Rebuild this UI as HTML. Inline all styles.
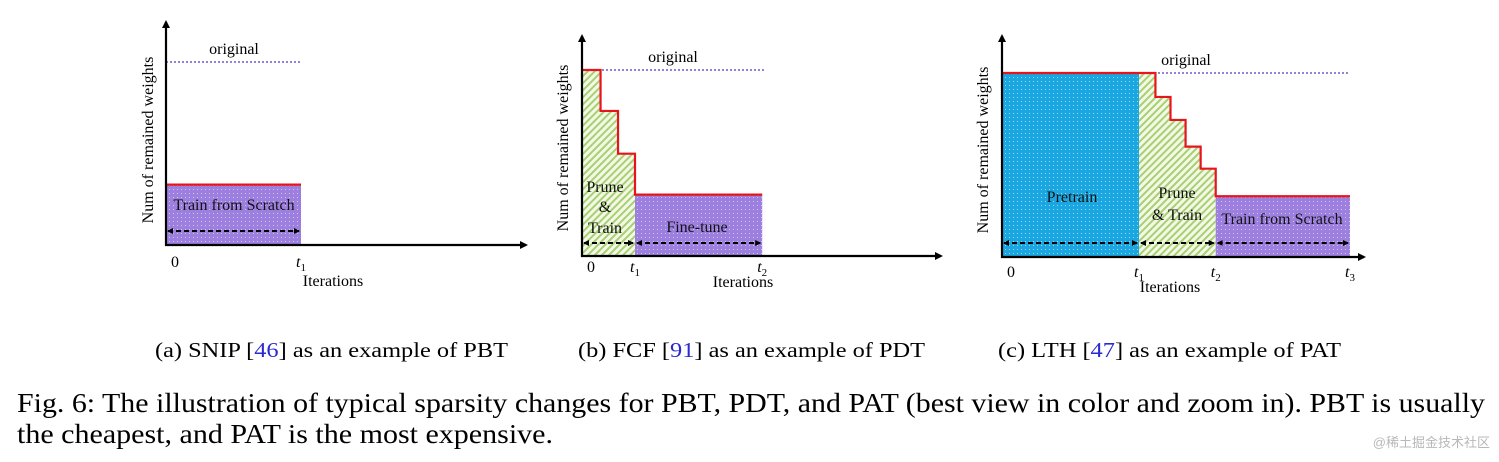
<!DOCTYPE html>
<html><head><meta charset="utf-8"><style>
html,body{margin:0;padding:0;background:#fff;}
svg{display:block;font-family:"Liberation Serif",serif;}
</style></head><body>
<svg id="fig" width="1499" height="462" viewBox="0 0 1499 462" xmlns="http://www.w3.org/2000/svg">
<defs>
<pattern id="dots" width="4" height="4" patternUnits="userSpaceOnUse"><rect width="4" height="4" fill="none"/><rect x="1" y="1" width="1" height="1" fill="#fff" opacity="0.55"/></pattern>
<pattern id="hatch" width="5" height="5" patternUnits="userSpaceOnUse" patternTransform="rotate(45)"><rect width="5" height="5" fill="#f3f9e6"/><rect width="2" height="5" fill="#a9cf73"/></pattern>
<marker id="ah" markerWidth="8" markerHeight="8" refX="6" refY="4" orient="auto" markerUnits="userSpaceOnUse"><path d="M0,0 L8,4 L0,8 z" fill="#000"/></marker>
<marker id="ahs" markerWidth="6" markerHeight="6" refX="5" refY="3" orient="auto-start-reverse" markerUnits="userSpaceOnUse"><path d="M0,0 L6,3 L0,6 z" fill="#000"/></marker>
</defs>
<g id="panels"></g>
<text x="155" y="357" font-size="21" textLength="353" lengthAdjust="spacingAndGlyphs">(a) SNIP [<tspan fill="#2a2ad0">46</tspan>] as an example of PBT</text>
<text x="578" y="357" font-size="21" textLength="347" lengthAdjust="spacingAndGlyphs">(b) FCF [<tspan fill="#2a2ad0">91</tspan>] as an example of PDT</text>
<text x="998" y="357" font-size="21" textLength="343" lengthAdjust="spacingAndGlyphs">(c) LTH [<tspan fill="#2a2ad0">47</tspan>] as an example of PAT</text>
<text x="17" y="412" font-size="27" textLength="1468" lengthAdjust="spacingAndGlyphs">Fig. 6: The illustration of typical sparsity changes for PBT, PDT, and PAT (best view in color and zoom in). PBT is usually</text>
<text x="17" y="443" font-size="27" textLength="536" lengthAdjust="spacingAndGlyphs">the cheapest, and PAT is the most expensive.</text>
<text x="1490" y="447" font-size="13" fill="#b8b8b8" text-anchor="end" font-family="'Liberation Sans','Noto Sans CJK SC',sans-serif">@稀土掘金技术社区</text>
</svg>
<script>
// Panel A (SNIP): iterations in units of t1, weights as % of original
const aStepX = [0, 1];
const aStepY = [33, 33];
// Panel B (FCF)
const bStepX = [0, 0.35, 0.68, 1.0, 3.4];
const bStepY = [100, 78, 55, 33, 33];
const bTicks = ["0", "t1", "t2"];
const bTickX = [0, 1, 3.4];
// Panel C (LTH)
const cStepX = [0, 1.12, 1.23, 1.34, 1.45, 1.56, 2.54];
const cStepY = [100, 87, 74.5, 60, 48, 33, 33];
const cTicks = ["0", "t1", "t2", "t3"];
const cTickX = [0, 1, 1.56, 2.54];
const aTicks = ["0", "t1"];
const aTickX = [0, 1];

const NS = "http://www.w3.org/2000/svg";
const root = document.getElementById("panels");
function mk(tag, attrs, parent) {
  const e = document.createElementNS(NS, tag);
  for (const k in attrs) e.setAttribute(k, attrs[k]);
  (parent || root).appendChild(e);
  return e;
}
function panel(cfg) {
  const g = mk("g", {});
  
  
  const sx = v => cfg.x0 + v * cfg.ux;
  const sy = v => cfg.yb - v / 100 * (cfg.yb - cfg.yTop);
  cfg.regions.forEach(r => {
    let pts = [];
    pts.push([sx(r.from), cfg.yb]);
    for (let i = 0; i < cfg.sx.length - 1; i++) {
      const a = cfg.sx[i], b = cfg.sx[i + 1];
      const lo = Math.max(a, r.from), hi = Math.min(b, r.to);
      if (hi > lo) { pts.push([sx(lo), sy(cfg.sy[i])]); pts.push([sx(hi), sy(cfg.sy[i])]); }
    }
    pts.push([sx(r.to), cfg.yb]);
    const p = mk("polygon", { points: pts.map(q => q.join(",")).join(" "), fill: r.fill }, g);
    
    
    if (r.fill.charAt(0) === "#") mk("polygon", { points: pts.map(q => q.join(",")).join(" "), fill: "url(#dots)" }, g);
    const ar = mk("line", { x1: sx(r.from) + 2, x2: sx(r.to) - 2, y1: cfg.arrowY, y2: cfg.arrowY, stroke: "#000", "stroke-width": 2, "stroke-dasharray": "5,3", "marker-start": "url(#ahs)", "marker-end": "url(#ahs)" }, g);
    
    
    r.labels.forEach(l => {
      const t = mk("text", { x: l[1], y: l[2], "font-size": 16, "text-anchor": "middle", fill: "#111" }, g);
      t.textContent = l[0];
      
      
    });
  });
  const od = mk("line", { x1: cfg.x0, x2: cfg.origEnd, y1: sy(100), y2: sy(100), stroke: "#6a5acd", "stroke-width": 1.6, "stroke-dasharray": "2,2" }, g);
  
  
  const ot = mk("text", { x: cfg.origTextX, y: sy(100) - 8, "font-size": 16, "text-anchor": "middle" }, g);
  ot.textContent = "original";
  
  
  let d = "";
  for (let i = 0; i < cfg.sx.length; i++) {
    d += (i === 0 ? "M" : "L") + sx(cfg.sx[i]) + "," + sy(cfg.sy[i]);
    if (i < cfg.sx.length - 1) d += "L" + sx(cfg.sx[i + 1]) + "," + sy(cfg.sy[i]);
  }
  const rl = mk("path", { d: d, fill: "none", stroke: "#e8141c", "stroke-width": 2.2 }, g);
  
  
  const ya = mk("line", { x1: cfg.x0, x2: cfg.x0, y1: cfg.yb + 1, y2: cfg.yAxisTop, stroke: "#000", "stroke-width": 2.2, "marker-end": "url(#ah)" }, g);
  
  
  const xa = mk("line", { x1: cfg.x0 - 1, x2: cfg.xEnd, y1: cfg.yb, y2: cfg.yb, stroke: "#000", "stroke-width": 2.2, "marker-end": "url(#ah)" }, g);
  
  
  cfg.ticks.forEach((tk, i) => {
    const t = mk("text", { x: sx(cfg.tickX[i]) + (i === 0 ? 9 : 0), y: cfg.yb + cfg.tickDy, "font-size": 16, "text-anchor": "middle" }, g);
    if (tk === "0") t.textContent = "0";
    else {
      const a = mk("tspan", { "font-style": "italic" }, t); a.textContent = "t";
      const b = mk("tspan", { "font-size": 11, dy: 4 }, t); b.textContent = tk.slice(1);
    }
    
    
  });
  const xt = mk("text", { x: cfg.iterX, y: cfg.iterY, "font-size": 16, "text-anchor": "middle" }, g);
  xt.textContent = "Iterations";
  
  
  const yt = mk("text", { x: 0, y: 0, "font-size": 16, "text-anchor": "middle", transform: "translate(" + cfg.yLabX + "," + cfg.yLabY + ") rotate(-90)" }, g);
  yt.textContent = "Num of remained weights";
  
  
}
panel({ name: "panel-a-snip", x0: 166, ux: 135, yb: 245, yTop: 62, yAxisTop: 22, xEnd: 526, origEnd: 301, origTextX: 234,
  sx: aStepX, sy: aStepY, arrowY: 231, ticks: aTicks, tickX: aTickX, tickDy: 22, iterX: 333, iterY: 286, yLabX: 153, yLabY: 140,
  regions: [{ name: "train-from-scratch-region", from: 0, to: 1, fill: "#9d7fe0", labels: [["Train from Scratch", 234, 210]] }] });
panel({ name: "panel-b-fcf", x0: 582, ux: 53, yb: 256, yTop: 70, yAxisTop: 36, xEnd: 941, origEnd: 766, origTextX: 673,
  sx: bStepX, sy: bStepY, arrowY: 243, ticks: bTicks, tickX: bTickX, tickDy: 16, iterX: 743, iterY: 287, yLabX: 568, yLabY: 148,
  regions: [{ name: "prune-train-region", from: 0, to: 1, fill: "url(#hatch)", labels: [["Prune", 605, 192], ["&", 605, 212], ["Train", 605, 233]] },
            { name: "fine-tune-region", from: 1, to: 3.4, fill: "#9d7fe0", labels: [["Fine-tune", 697, 232]] }] });
panel({ name: "panel-c-lth", x0: 1002, ux: 137, yb: 257, yTop: 73, yAxisTop: 36, xEnd: 1364, origEnd: 1350, origTextX: 1186,
  sx: cStepX, sy: cStepY, arrowY: 243, ticks: cTicks, tickX: cTickX, tickDy: 20, iterX: 1170, iterY: 292, yLabX: 988, yLabY: 150,
  regions: [{ name: "pretrain-region", from: 0, to: 1, fill: "#1aa6e0", labels: [["Pretrain", 1072, 202]] },
            { name: "prune-train-region", from: 1, to: 1.56, fill: "url(#hatch)", labels: [["Prune", 1177, 198], ["& Train", 1177, 220]] },
            { name: "train-from-scratch-region", from: 1.56, to: 2.54, fill: "#9d7fe0", labels: [["Train from Scratch", 1282, 224]] }] });
</script>
</body></html>
